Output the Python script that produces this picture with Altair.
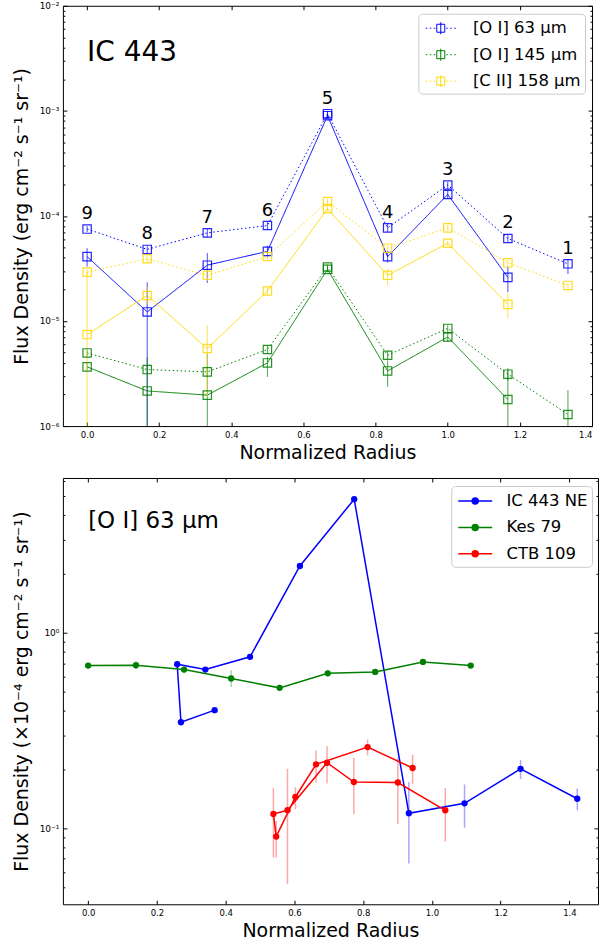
import altair as alt
import pandas as pd

FONT = "DejaVu Sans"

# ---------------- top panel: IC 443 ----------------
radius = [0.0, 0.1667, 0.3333, 0.5, 0.6667, 0.8333, 1.0, 1.1667, 1.3333]
position_labels = ["9", "8", "7", "6", "5", "4", "3", "2", "1"]
top_lines = ["[O I] 63 μm", "[O I] 145 μm", "[C II] 158 μm"]
top_colors = ["#0000ff", "#008000", "#ffd700"]
rings = ["outer", "inner"]

oi63_outer = [7.5e-5, 4.8e-5, 6.9e-5, 8.1e-5, 9.4e-4, 7.7e-5, 1.97e-4, 6.1e-5, 3.5e-5]
oi63_outer_lo = [7.0e-5, 4.4e-5, 6.3e-5, 7.4e-5, 8.7e-4, 7.0e-5, 1.8e-4, 5.6e-5, 2.8e-5]
oi63_outer_hi = [8.0e-5, 5.2e-5, 7.5e-5, 8.8e-5, 1.0e-3, 8.4e-5, 2.1e-4, 6.6e-5, 3.9e-5]
oi63_inner = [4.1e-5, 1.22e-5, 3.4e-5, 4.6e-5, 9.0e-4, 4.1e-5, 1.6e-4, 2.6e-5]
oi63_inner_lo = [3.3e-5, 1e-7, 2.3e-5, 4.0e-5, 8.3e-4, 3.6e-5, 1.45e-4, 1.88e-5]
oi63_inner_hi = [4.93e-5, 2.34e-5, 4.43e-5, 5.2e-5, 9.7e-4, 4.6e-5, 1.75e-4, 3.3e-5]

oi145_outer = [4.97e-6, 3.45e-6, 3.28e-6, 5.35e-6, 3.26e-5, 4.72e-6, 8.5e-6, 3.12e-6, 1.29e-6]
oi145_outer_lo = [4.6e-6, 3.1e-6, 2.9e-6, 4.9e-6, 3.05e-5, 4.3e-6, 7.9e-6, 2.7e-6, 1e-7]
oi145_outer_hi = [5.35e-6, 3.8e-6, 3.65e-6, 5.8e-6, 3.45e-5, 5.15e-6, 9.1e-6, 3.55e-6, 2.2e-6]
oi145_inner = [3.66e-6, 2.16e-6, 1.97e-6, 3.99e-6, 3.1e-5, 3.35e-6, 7.04e-6, 1.79e-6]
oi145_inner_lo = [3.4e-6, 1e-7, 1e-7, 2.94e-6, 2.9e-5, 2.36e-6, 6.3e-6, 1e-7]
oi145_inner_hi = [3.95e-6, 4.55e-6, 4.9e-6, 4.55e-6, 3.3e-5, 4.2e-6, 7.9e-6, 3.4e-6]

cii_outer = [2.92e-5, 3.91e-5, 2.72e-5, 4.11e-5, 1.37e-4, 4.93e-5, 7.7e-5, 3.58e-5, 2.18e-5]
cii_outer_lo = [2.75e-5, 3.6e-5, 2.4e-5, 3.85e-5, 1.28e-4, 4.6e-5, 7.2e-5, 3.35e-5, 2.05e-5]
cii_outer_hi = [3.1e-5, 4.2e-5, 3.05e-5, 4.4e-5, 1.46e-4, 5.25e-5, 8.2e-5, 3.8e-5, 2.3e-5]
cii_inner = [7.43e-6, 1.75e-5, 5.47e-6, 1.93e-5, 1.17e-4, 2.72e-5, 5.5e-5, 1.44e-5]
cii_inner_lo = [1e-7, 1.45e-5, 1.9e-6, 1.8e-5, 1.1e-4, 2.18e-5, 5.2e-5, 1.06e-5]
cii_inner_hi = [2.92e-5, 2.1e-5, 9.1e-6, 2.06e-5, 1.24e-4, 3.14e-5, 5.8e-5, 1.83e-5]

top_note = ["IC 443"]
top_note_r = [0.0]
top_note_flux = [3.0e-3]

# ---------------- bottom panel: [O I] 63 um ----------------
sources = ["IC 443 NE", "Kes 79", "CTB 109"]
source_colors = ["#0000ff", "#008000", "#ff0000"]

ne_r = [0.368, 0.270, 0.259, 0.341, 0.471, 0.616, 0.774, 0.933, 1.095, 1.258, 1.423]
ne_f = [0.403, 0.350, 0.692, 0.650, 0.755, 2.20, 4.83, 0.1197, 0.1346, 0.202, 0.142]
ne_lo = [0.39, 0.335, 0.675, 0.635, 0.73, 2.15, 4.75, 0.0663, 0.101, 0.179, 0.124]
ne_hi = [0.416, 0.365, 0.71, 0.665, 0.78, 2.25, 4.9, 0.173, 0.168, 0.224, 0.160]

kes_r = [0.0, 0.139, 0.279, 0.416, 0.557, 0.697, 0.835, 0.974, 1.113]
kes_f = [0.681, 0.684, 0.650, 0.585, 0.524, 0.622, 0.632, 0.711, 0.681]
kes_lo = [0.66, 0.655, 0.625, 0.53, 0.505, 0.60, 0.61, 0.69, 0.665]
kes_hi = [0.70, 0.715, 0.675, 0.645, 0.545, 0.645, 0.655, 0.73, 0.70]

ctb_r = [1.039, 0.901, 0.773, 0.695, 0.580, 0.539, 0.547, 0.603, 0.663, 0.813, 0.944]
ctb_f = [0.124, 0.172, 0.173, 0.217, 0.124, 0.1187, 0.091, 0.145, 0.213, 0.261, 0.204]
ctb_lo = [0.0858, 0.1052, 0.1183, 0.1698, 0.052, 0.0711, 0.0711, 0.1254, 0.1722, 0.2366, 0.1683]
ctb_hi = [0.1611, 0.2302, 0.2302, 0.2638, 0.2023, 0.1618, 0.1094, 0.1625, 0.251, 0.2854, 0.2385]

bottom_note = ["[O I] 63 μm"]
bottom_note_r = [0.0]
bottom_note_flux = [3.45]

# tick values
x_major = [0.0, 0.2, 0.4, 0.6, 0.8, 1.0, 1.2, 1.4]
top_y_major = [1e-6, 1e-5, 1e-4, 1e-3, 1e-2]
top_y_minor = [k * 10.0 ** e for e in range(-6, -2) for k in range(2, 10)]
bot_y_major = [0.1, 1.0]
bot_y_minor = [0.05, 0.06, 0.07, 0.08, 0.09, 0.2, 0.3, 0.4, 0.5, 0.6, 0.7, 0.8, 0.9, 2, 3, 4, 5, 6]

# ---------------- tables ----------------
rows = []
for line, ring, v, lo, hi in [
    (top_lines[0], "outer", oi63_outer, oi63_outer_lo, oi63_outer_hi),
    (top_lines[0], "inner", oi63_inner, oi63_inner_lo, oi63_inner_hi),
    (top_lines[1], "outer", oi145_outer, oi145_outer_lo, oi145_outer_hi),
    (top_lines[1], "inner", oi145_inner, oi145_inner_lo, oi145_inner_hi),
    (top_lines[2], "outer", cii_outer, cii_outer_lo, cii_outer_hi),
    (top_lines[2], "inner", cii_inner, cii_inner_lo, cii_inner_hi),
]:
    for r, a, b, c in zip(radius, v, lo, hi):
        rows.append(dict(r=r, flux=a, lo=b, hi=c, line=line, ring=ring))
top_df = pd.DataFrame(rows)
top_lab_df = pd.DataFrame(dict(r=radius, flux=oi63_outer, label=position_labels))
top_note_df = pd.DataFrame(dict(r=top_note_r, flux=top_note_flux, label=top_note))

rows = []
for src, rr, ff, lo, hi in [
    (sources[0], ne_r, ne_f, ne_lo, ne_hi),
    (sources[1], kes_r, kes_f, kes_lo, kes_hi),
    (sources[2], ctb_r, ctb_f, ctb_lo, ctb_hi),
]:
    for i, (r, a, b, c) in enumerate(zip(rr, ff, lo, hi)):
        rows.append(dict(r=r, flux=a, lo=b, hi=c, source=src, idx=i))
bot_df = pd.DataFrame(rows)
bot_note_df = pd.DataFrame(dict(r=bottom_note_r, flux=bottom_note_flux, label=bottom_note))

SUP = ("'10' + (round(log(datum.value)/LN10) < 0 ? '⁻' : '') + "
       "['⁰','¹','²','³','⁴','⁵','⁶','⁷','⁸','⁹'][abs(round(log(datum.value)/LN10))]")


def x_axis(W):
    return alt.Axis(orient="bottom", values=x_major, format=".1f", ticks=False, domain=False,
                    labelFontSize=8.5, labelPadding=4, title="Normalized Radius",
                    titleFontSize=19, titleFontWeight="normal", titleX=W / 2, titleY=17,
                    titleBaseline="top", titleAlign="center")


def y_axis(H, values, ytitle):
    return alt.Axis(orient="left", values=values, labelExpr=SUP, ticks=False, domain=False,
                    labelFontSize=9, labelPadding=4, title=ytitle, titleFontSize=19,
                    titleFontWeight="normal", titleX=-31, titleY=H / 2, titleAngle=270,
                    titleBaseline="bottom", titleAlign="center")


def tick_layers(df, xs, ys, W, H, ymaj, ymin):
    base = alt.Chart(df).mark_point(opacity=0, size=1)
    c = dict(labels=False, domain=False, grid=False, title=None, tickColor="black")
    a = base.encode(
        x=alt.X("r:Q", scale=xs, axis=alt.Axis(orient="top", offset=-H, values=x_major, tickSize=4, **c)),
        y=alt.Y("flux:Q", scale=ys, axis=alt.Axis(orient="right", offset=-W, values=ymaj, tickSize=4, **c)))
    b = base.encode(
        x=alt.X("r:Q", scale=xs, axis=alt.Axis(orient="bottom", offset=-H, values=x_major, tickSize=4, **c)),
        y=alt.Y("flux:Q", scale=ys, axis=alt.Axis(orient="left", offset=-W, values=ymaj, tickSize=4, **c)))
    m1 = base.encode(
        x=alt.X("r:Q", scale=xs, axis=None),
        y=alt.Y("flux:Q", scale=ys, axis=alt.Axis(orient="right", offset=-W, values=ymin, tickSize=2, **c)))
    m2 = base.encode(
        x=alt.X("r:Q", scale=xs, axis=None),
        y=alt.Y("flux:Q", scale=ys, axis=alt.Axis(orient="left", offset=-W, values=ymin, tickSize=2, **c)))
    return [a, b, m1, m2]


# ---------------- top chart ----------------
TW, TH = 530, 421
xs_top = alt.Scale(domain=[-0.0671, 1.4], nice=False, zero=False)
ys_top = alt.Scale(type="log", domain=[1e-6, 1e-2], nice=False)
col_top = alt.Scale(domain=top_lines, range=top_colors)
dash = alt.Scale(domain=rings, range=[[1.5, 2.5], [1, 0]])
# legend glyph: dotted line, open square and error bar (unit = 10 px, centred at +0.8)
top_sym = ("M-0.7,0h0.15M-0.3,0h0.15M0.1,0h0.15"
           "M0.4,-0.4h0.8v0.8h-0.8z"
           "M0.8,-0.6v1.2"
           "M1.35,0h0.15M1.75,0h0.15M2.15,0h0.15")
top_legend = alt.Legend(
    title=None, orient="none", legendX=356, legendY=8, symbolType=top_sym,
    symbolSize=400, symbolStrokeWidth=1, symbolFillColor="transparent", symbolOpacity=1,
    labelFontSize=16.5, labelFont=FONT, labelOffset=29.7, padding=4, rowPadding=7.5,
    strokeColor="#cccccc", cornerRadius=4, fillColor="white", labelColor="black")
top_color = alt.Color("line:N", scale=col_top, legend=top_legend)

top_base = alt.Chart(top_df)
t_lines = top_base.mark_line(strokeWidth=1, clip=True).encode(
    x=alt.X("r:Q", scale=xs_top, axis=None),
    y=alt.Y("flux:Q", scale=ys_top, axis=None),
    color=top_color,
    strokeDash=alt.StrokeDash("ring:N", scale=dash, legend=None),
)
t_err = top_base.mark_rule(strokeWidth=1, opacity=0.7, clip=True).encode(
    x=alt.X("r:Q", scale=xs_top, axis=None),
    y=alt.Y("lo:Q", scale=ys_top, axis=None),
    y2="hi:Q",
    color=top_color,
)
t_pts = top_base.mark_point(shape="square", filled=False, size=70, strokeWidth=1.2,
                            opacity=0.85, clip=True).encode(
    x=alt.X("r:Q", scale=xs_top, axis=x_axis(TW)),
    y=alt.Y("flux:Q", scale=ys_top,
            axis=y_axis(TH, top_y_major, "Flux Density (erg cm⁻² s⁻¹ sr⁻¹)")),
    color=top_color,
)
t_lab = alt.Chart(top_lab_df).mark_text(fontSize=18, font=FONT, baseline="bottom", dy=-6,
                                        color="black").encode(
    x=alt.X("r:Q", scale=xs_top, axis=None),
    y=alt.Y("flux:Q", scale=ys_top, axis=None),
    text="label:N",
)
t_note = alt.Chart(top_note_df).mark_text(fontSize=28, font=FONT, align="left",
                                          baseline="alphabetic", color="black").encode(
    x=alt.X("r:Q", scale=xs_top, axis=None),
    y=alt.Y("flux:Q", scale=ys_top, axis=None),
    text="label:N",
)
top_chart = alt.layer(
    t_lines, t_err, t_pts, t_lab, t_note,
    *tick_layers(top_df, xs_top, ys_top, TW, TH, top_y_major, top_y_minor)
).resolve_axis(x="independent", y="independent").properties(width=TW, height=TH)

# ---------------- bottom chart ----------------
BW, BH = 536, 427
xs_bot = alt.Scale(domain=[-0.0735, 1.4833], nice=False, zero=False)
ys_bot = alt.Scale(type="log", domain=[0.041, 6.2], nice=False)
col_bot = alt.Scale(domain=sources, range=source_colors)

# legend glyph: line with a filled dot (unit = 10 px, centred at +0.9)
bot_sym = ("M-0.8,0H2.6"
           "M1.2,0A0.3,0.3,0,1,1,0.6,0A0.3,0.3,0,1,1,1.2,0"
           "M1.1,0A0.2,0.2,0,1,1,0.7,0A0.2,0.2,0,1,1,1.1,0"
           "M1.0,0A0.1,0.1,0,1,1,0.8,0A0.1,0.1,0,1,1,1.0,0")
bot_legend = alt.Legend(
    title=None, orient="none", legendX=389, legendY=8, symbolType=bot_sym,
    symbolSize=400, symbolStrokeWidth=1.5, symbolOpacity=1, labelFontSize=16.5,
    labelFont=FONT, labelOffset=29.3, padding=4, rowPadding=6.5, strokeColor="#cccccc",
    cornerRadius=4, fillColor="white", labelColor="black")
bot_color = alt.Color("source:N", scale=col_bot, legend=bot_legend)

bot_base = alt.Chart(bot_df)
b_err = bot_base.mark_rule(strokeWidth=1.5, opacity=0.35, clip=True).encode(
    x=alt.X("r:Q", scale=xs_bot, axis=None),
    y=alt.Y("lo:Q", scale=ys_bot, axis=None),
    y2="hi:Q",
    color=bot_color,
)
b_lines = bot_base.mark_line(strokeWidth=1.5, clip=True).encode(
    x=alt.X("r:Q", scale=xs_bot, axis=x_axis(BW)),
    y=alt.Y("flux:Q", scale=ys_bot,
            axis=y_axis(BH, bot_y_major, "Flux Density (×10⁻⁴ erg cm⁻² s⁻¹ sr⁻¹)")),
    color=bot_color,
    order="idx:Q",
)
b_pts = bot_base.mark_circle(size=40, opacity=1, clip=True).encode(
    x=alt.X("r:Q", scale=xs_bot, axis=None),
    y=alt.Y("flux:Q", scale=ys_bot, axis=None),
    color=bot_color,
)
b_note = alt.Chart(bot_note_df).mark_text(fontSize=23, font=FONT, align="left",
                                          baseline="alphabetic", color="black").encode(
    x=alt.X("r:Q", scale=xs_bot, axis=None),
    y=alt.Y("flux:Q", scale=ys_bot, axis=None),
    text="label:N",
)
bottom_chart = alt.layer(
    b_err, b_lines, b_pts, b_note,
    *tick_layers(bot_df, xs_bot, ys_bot, BW, BH, bot_y_major, bot_y_minor)
).resolve_axis(x="independent", y="independent").properties(width=BW, height=BH)

chart = alt.vconcat(top_chart, bottom_chart, spacing=14).properties(
    padding={"left": 12, "top": 0, "right": 0, "bottom": 0}
).resolve_scale(color="independent").resolve_legend(color="independent").configure(
    font=FONT
).configure_view(stroke="black", strokeWidth=1).configure_axis(
    grid=False, labelFont=FONT, titleFont=FONT, labelColor="black", titleColor="black",
    tickColor="black"
)

chart.save("out.html", embed_options={"renderer": "svg", "actions": False})
